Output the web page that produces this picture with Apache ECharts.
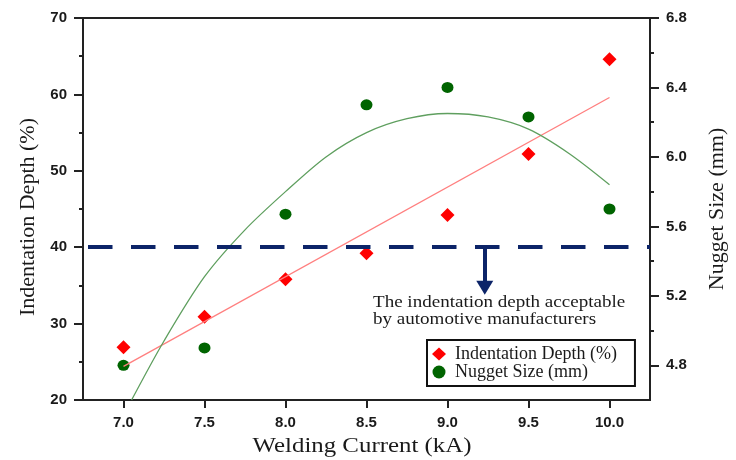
<!DOCTYPE html>
<html>
<head>
<meta charset="utf-8">
<script src="https://cdn.jsdelivr.net/npm/echarts@6.0.0/dist/echarts.min.js"></script>
<style>
  html, body { margin: 0; padding: 0; background: #fff; }
  #chart { width: 736px; height: 460px; }
</style>
</head>
<body>
<div id="chart"></div>
<script>
// welding current (kA)
const current = [7.0, 7.5, 8.0, 8.5, 9.0, 9.5, 10.0]
// indentation depth (%), left axis
const indentation = [26.9, 30.9, 35.8, 39.2, 44.2, 52.2, 64.6]
// nugget size (mm), right axis
const nugget = [4.80, 4.90, 5.67, 6.30, 6.40, 6.23, 5.70]
// fitted lines as drawn in the figure
const indentFit = [[7.0, 24.4], [10.0, 59.6]]
const nuggetFit = [
  [7.05, 4.60], [7.25, 4.94], [7.5, 5.31], [7.75, 5.58], [8.0, 5.80], [8.25, 6.00],
  [8.5, 6.14], [8.75, 6.22], [9.0, 6.25], [9.25, 6.23], [9.5, 6.16], [9.75, 6.02], [10.0, 5.84]
]
// tick labels
const xTicks = [7.0, 7.5, 8.0, 8.5, 9.0, 9.5, 10.0]
const rightLabels = [4.8, 5.2, 5.6, 6.0, 6.4, 6.8]
const rightMinor = [5.0, 5.4, 5.8, 6.2, 6.6]
// acceptable limit and arrow
const limit = 40
const arrowX = 9.23
const arrowEnd = 34.7

const serif = '"Liberation Serif", "Times New Roman", serif'
const sans = '"Liberation Sans", Arial, sans-serif'
const ink = '#1a1a1a'
const navy = '#0c2468'

const labelStyle = { color: ink, fontFamily: sans, fontSize: 15, fontWeight: 'bold' }
const nameStyle = { color: ink, fontFamily: serif, fontSize: 22 }

const chart = echarts.init(document.getElementById('chart'), null, { renderer: 'canvas' })

const option = {
  animation: false,
  grid: {
    left: 83, right: 85, top: 18, bottom: 60,
    show: true, borderColor: '#222', borderWidth: 2
  },
  legend: {
    orient: 'vertical',
    left: 427, top: 340,
    padding: [5, 18, 5, 5],
    itemGap: 0,
    itemWidth: 14, itemHeight: 13,
    borderColor: '#111', borderWidth: 2,
    textStyle: { color: ink, fontFamily: serif, fontSize: 18, lineHeight: 16, padding: [0, 0, 0, 4] },
    data: [
      { name: 'Indentation Depth (%)', icon: 'diamond' },
      { name: 'Nugget Size (mm)', icon: 'circle' }
    ]
  },
  xAxis: {
    type: 'value',
    min: 6.75, max: 10.25, interval: 0.25,
    axisLine: { lineStyle: { color: '#222', width: 2 } },
    axisTick: { customValues: xTicks, length: 8, lineStyle: { color: '#222', width: 2 } },
    axisLabel: Object.assign({ customValues: xTicks, margin: 15, formatter: v => v.toFixed(1) }, labelStyle),
    splitLine: { show: false }
  },
  yAxis: [
    {
      type: 'value', position: 'left',
      min: 20, max: 70, interval: 10,
      name: 'Indentation Depth (%)',
      nameLocation: 'middle', nameGap: 44,
      nameTextStyle: Object.assign({ padding: [0, 16, 0, 0] }, nameStyle),
      axisLine: { show: true, lineStyle: { color: '#222', width: 2 } },
      axisTick: { length: 9, lineStyle: { color: '#222', width: 2 } },
      minorTick: { show: true, splitNumber: 2, length: 4, lineStyle: { color: '#222', width: 2 } },
      axisLabel: Object.assign({ margin: 16 }, labelStyle),
      splitLine: { show: false }
    },
    {
      type: 'value', position: 'right',
      min: 4.6, max: 6.8, interval: 0.2,
      name: 'Nugget Size (mm)',
      nameLocation: 'middle', nameGap: 56,
      nameTextStyle: nameStyle,
      axisLine: { show: true, lineStyle: { color: '#222', width: 2 } },
      axisTick: { customValues: rightLabels, length: 9, lineStyle: { color: '#222', width: 2 } },
      axisLabel: Object.assign({ customValues: rightLabels, margin: 16, formatter: v => v.toFixed(1) }, labelStyle),
      splitLine: { show: false }
    },
    {
      // minor ticks of the right axis
      type: 'value', position: 'right',
      min: 4.6, max: 6.8, interval: 0.2,
      axisLine: { show: false },
      axisTick: { customValues: rightMinor, length: 4, lineStyle: { color: '#222', width: 2 } },
      axisLabel: { show: false },
      splitLine: { show: false }
    }
  ],
  graphic: [
    {
      // x axis name, the source figure is stretched sideways
      type: 'text',
      x: 362, y: 446,
      scaleX: 1.13,
      style: {
        text: 'Welding Current (kA)',
        fill: ink,
        font: '22px ' + serif,
        align: 'center',
        verticalAlign: 'middle'
      }
    },
    {
      type: 'text',
      left: 373, top: 294,
      scaleX: 1.12,
      style: {
        text: 'The indentation depth acceptable\nby automotive manufacturers',
        fill: ink,
        font: '17px ' + serif,
        lineHeight: 17
      }
    }
  ],
  series: [
    {
      name: 'indentFit',
      type: 'line',
      yAxisIndex: 0,
      data: indentFit,
      showSymbol: false,
      lineStyle: { color: '#ff7f7f', width: 1.3 },
      silent: true,
      markLine: {
        silent: true,
        symbol: ['none', 'triangle'],
        symbolSize: [17, 14],
        label: { show: false },
        lineStyle: { color: navy, width: 4, type: 'solid' },
        data: [[{ coord: [arrowX, limit] }, { coord: [arrowX, arrowEnd] }]]
      }
    },
    {
      name: 'nuggetFit',
      type: 'line',
      yAxisIndex: 1,
      data: nuggetFit,
      smooth: 0.3,
      showSymbol: false,
      lineStyle: { color: '#5f9f5f', width: 1.3 },
      silent: true
    },
    {
      name: 'Indentation Depth (%)',
      type: 'scatter',
      yAxisIndex: 0,
      symbol: 'diamond',
      symbolSize: 14,
      itemStyle: { color: '#ff0000', opacity: 1 },
      data: current.map((x, i) => [x, indentation[i]]),
      markLine: {
        silent: true,
        symbol: 'none',
        label: { show: false },
        lineStyle: { color: navy, width: 4, type: [24.5, 18.5], dashOffset: 38 },
        data: [{ yAxis: limit }]
      }
    },
    {
      name: 'Nugget Size (mm)',
      type: 'scatter',
      yAxisIndex: 1,
      symbol: 'circle',
      symbolSize: [12, 11],
      itemStyle: { color: '#006400', opacity: 1 },
      data: current.map((x, i) => [x, nugget[i]])
    }
  ]
}

chart.setOption(option)
window.addEventListener('resize', () => chart.resize())
</script>
</body>
</html>
